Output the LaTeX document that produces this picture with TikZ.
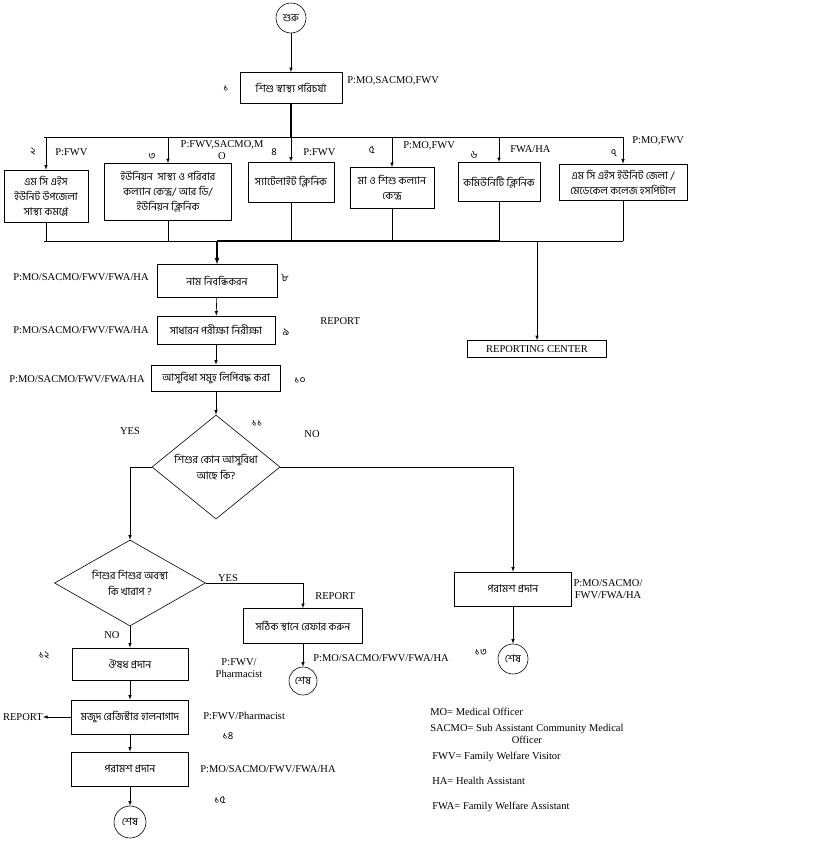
\documentclass[tikz,border=0pt]{standalone}
\usepackage{fontspec}
\setmainfont{Liberation Serif}
\newfontfamily\bn[Script=Bengali]{Hind Siliguri}
\usetikzlibrary{shapes.geometric}

\tikzset{
  >=latex,
  every node/.style={font=\fontsize{10.5}{11.5}\selectfont},
  box/.style={draw, align=center, inner sep=1pt, font=\bn\fontsize{10.5}{15}\selectfont},
  query/.style={draw, diamond, inner sep=0pt, align=center, font=\bn\fontsize{10.5}{16}\selectfont},
  endpt/.style={draw, circle, minimum size=30, inner sep=0pt, font=\bn\fontsize{10.5}{11}\selectfont},
  num/.style={font=\bn\fontsize{10.5}{11}\selectfont, inner sep=0pt},
  role/.style={inner sep=0pt, align=center},
}

\begin{document}
\begin{tikzpicture}[x=1pt,y=-1pt,line width=0.6pt]
 \useasboundingbox (0,0) rectangle (819,842);

 % start and first step
 \node[endpt] (start) at (291,18) {শুরু};
 \node[box, minimum width=102, minimum height=31] (care) at (291,88) {শিশু স্বাস্থ্য পরিচর্যা};
 \node[num] (n1) at (226,88) {১};
 \node[role, anchor=west] (r1) at (347,81) {P:MO,SACMO,FWV};
 \draw[->] (start) -- (care);

 % service centres
 \node[box, minimum width=84, minimum height=52] (upz) at (46,196) {এম সি এইস\\ইউনিট উপজেলা\\সাস্থ্য কমপ্লে};
 \node[box, minimum width=127, minimum height=57] (union) at (168,192) {ইউনিয়ন \ সাস্থ্য ও পরিবার\\কল্যান কেন্দ্র/ আর ডি/\\ইউনিয়ন ক্লিনিক};
 \node[box, minimum width=86, minimum height=40] (sat) at (291,182) {স্যাটেলাইট ক্লিনিক};
 \node[box, minimum width=84, minimum height=41] (mch) at (392,188) {মা ও শিশু কল্যান\\কেন্দ্র};
 \node[box, minimum width=82, minimum height=39] (comm) at (499,182) {কমিউনিটি ক্লিনিক};
 \node[box, minimum width=128, minimum height=36] (dist) at (623,182) {এম সি এইস ইউনিট জেলা /\\মেডেকেল কলেজ হসপিটাল};

 \node[num] (n2) at (33,152) {২};
 \node[role, anchor=west] (r2) at (55,152) {P:FWV};
 \node[num] (n3) at (152,156) {৩};
 \node[role] (r3) at (222,150) {P:FWV,SACMO,M\\O};
 \node[num] (n4) at (274,152) {৪};
 \node[role, anchor=west] (r4) at (303,152) {P:FWV};
 \node[num] (n5) at (372,150) {৫};
 \node[role, anchor=west] (r5) at (403,146) {P:MO,FWV};
 \node[num] (n6) at (474,155) {৬};
 \node[role, anchor=west] (r6) at (510,149) {FWA/HA};
 \node[num] (n7) at (614,153) {৭};
 \node[role, anchor=west] (r7) at (632,141) {P:MO,FWV};

 \coordinate (tl) at (44,137);
 \coordinate (tr) at (623,137);
 \coordinate (bl) at (44,241);
 \coordinate (br) at (623,241);
 \draw[line width=1.2pt] (care.south) -- (care.south |- tl);
 \draw (tl) -- (tr);
 \foreach \b in {upz,union,sat,mch,comm,dist}
   \draw[->] (\b.north |- tl) -- (\b.north);
 \foreach \b in {upz,union,sat,mch,comm,dist}
   \draw (\b.south) -- (\b.south |- bl);
 \draw (bl) -- (br);

 % registration steps
 \node[box, minimum width=120, minimum height=33] (reg) at (217,281) {নাম নিবন্ধিকরন};
 \node[box, minimum width=118, minimum height=28] (exam) at (216,330) {সাধারন পরীক্ষা নিরীক্ষা};
 \node[box, minimum width=129, minimum height=26] (rec) at (216,378) {আসুবিধা সমুহ লিপিবদ্ধ করা};
 \node[draw, minimum width=139, minimum height=17, inner sep=1pt] (rc) at (537,349) {REPORTING CENTER};
 \draw[line width=1.2pt] (reg.north |- bl) -- (comm.south |- bl);
 \draw[->, line width=1.2pt] (reg.north |- bl) -- (reg.north);
 \draw[->] (rc.north |- bl) -- (rc.north);
 \draw[->] (reg) -- (exam);
 \draw[->] (exam) -- (rec);

 \node[role, anchor=west] (r8) at (13,277) {P:MO/SACMO/FWV/FWA/HA};
 \node[num] (n8) at (285,278) {৮};
 \node[role, anchor=west] (r9) at (13,330) {P:MO/SACMO/FWV/FWA/HA};
 \node[num] (n9) at (286,332) {৯};
 \node[role, anchor=west] (rep1) at (320,321) {REPORT};
 \node[role, anchor=west] (r10) at (9,379) {P:MO/SACMO/FWV/FWA/HA};
 \node[num] (n10) at (300,380) {১০};

 % decisions
 \node[query, aspect=1.23, minimum width=128, minimum height=104] (q1) at (216,467) {শিশুর কোন আসুবিধা\\আছে কি?};
 \node[num] (n11) at (257,423) {১১};
 \node[role] (yes1) at (130,431) {YES};
 \node[role] (no1) at (312,434) {NO};
 \draw[->] (rec.south) -- (q1.north);

 \node[query, aspect=1.76, minimum width=151, minimum height=86] (q2) at (130,583) {শিশুর শিশুর অবস্থা\\কি খারাপ ?};
 \node[role] (yes2) at (228,578) {YES};
 \node[role] (no2) at (112,635) {NO};
 \draw[->] (q1.west) -| (q2.north);

 % NO branch of first decision
 \node[box, minimum width=117, minimum height=34] (adv1) at (513,589) {পরামশ প্রদান};
 \node[role] (r13) at (608,589) {P:MO/SACMO/\\FWV/FWA/HA};
 \node[endpt] (end1) at (513,659) {শেষ};
 \node[num] (n13) at (481,652) {১৩};
 \draw[->] (q1.east) -| (adv1.north);
 \draw[->] (adv1) -- (end1);

 % referral
 \node[box, minimum width=119, minimum height=35] (refer) at (303,626) {সঠিক স্থানে রেফার করুন};
 \node[role, anchor=west] (rep2) at (315,596) {REPORT};
 \node[endpt, minimum size=28] (end2) at (303,681) {শেষ};
 \node[role, anchor=west] (r12b) at (313,658) {P:MO/SACMO/FWV/FWA/HA};
 \draw[->] (q2.east) -| (refer.north);
 \draw[->] (refer) -- (end2);

 % treatment
 \node[box, minimum width=116, minimum height=32] (med) at (130,664) {ঔষধ প্রদান};
 \node[num] (n12) at (44,655) {১২};
 \node[role] (r12) at (239,668) {P:FWV/\\Pharmacist};
 \node[box, minimum width=117, minimum height=34] (stock) at (130,717) {মজুদ রেজিস্টার হালনাগাদ};
 \node[role, anchor=east] (rep3) at (43,717) {REPORT};
 \node[role, anchor=west] (r14) at (203,716) {P:FWV/Pharmacist};
 \node[num] (n14) at (228,736) {১৪};
 \node[box, minimum width=117, minimum height=34] (adv2) at (130,769) {পরামশ প্রদান};
 \node[role, anchor=west] (r15) at (200,769) {P:MO/SACMO/FWV/FWA/HA};
 \node[num] (n15) at (220,800) {১৫};
 \node[endpt, minimum size=32] (end3) at (130,822) {শেষ};
 \draw[->] (q2.south) -- (med.north);
 \draw[->] (med) -- (stock);
 \draw[->] (stock.west) -- (rep3.east);
 \draw[->] (stock) -- (adv2);
 \draw[->] (adv2) -- (end3);

 % legend
 \node[role, anchor=west] (l1) at (430,712) {MO= Medical Officer};
 \node[role, anchor=north west] (l2) at (430,724) {SACMO= Sub Assistant Community Medical\\Officer};
 \node[role, anchor=west] (l3) at (432,757) {FWV= Family Welfare Visitor};
 \node[role, anchor=west] (l4) at (432,781) {HA= Health Assistant};
 \node[role, anchor=west] (l5) at (432,807) {FWA= Family Welfare Assistant};
\end{tikzpicture}
\end{document}
